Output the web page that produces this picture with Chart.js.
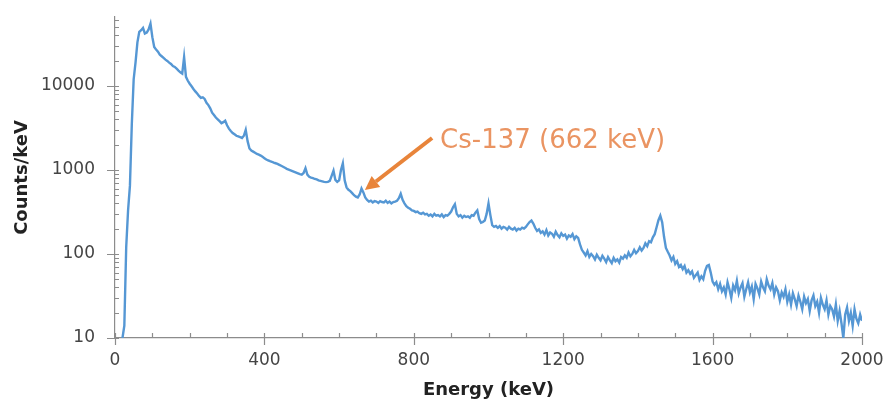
<!DOCTYPE html>
<html>
<head>
<meta charset="utf-8">
<title>Gamma spectrum</title>
<script src="https://cdn.jsdelivr.net/npm/chart.js"></script>
<style>
  html, body { margin: 0; padding: 0; background: white; }
  #wrap { width: 889px; height: 401px; position: relative; }
</style>
</head>
<body>
<div id="wrap"><canvas id="chart"></canvas></div>
<script>
// spectrum, one value every 5 keV starting at 20 keV
const startKeV = 20;
const stepKeV = 5;
const counts = [
  10, 14, 120, 330, 650, 3500, 12000, 19000, 33000, 44000, 46000, 49000, 42000, 43000, 47000, 55000, 38000, 29000, 27000, 25500,
  23500, 22500, 21500, 20500, 19800, 18900, 18200, 17200, 16800, 16000, 15200, 14500, 14000, 22000, 12800, 11500, 10600, 9900, 9200, 8600,
  8100, 7600, 7200, 7300, 7000, 6300, 5900, 5400, 4800, 4500, 4200, 4000, 3800, 3600, 3700, 3850, 3400, 3100, 2900, 2750,
  2650, 2550, 2500, 2450, 2400, 2550, 3000, 2200, 1800, 1700, 1650, 1600, 1550, 1520, 1480, 1430, 1380, 1330, 1300, 1270,
  1250, 1220, 1200, 1180, 1150, 1120, 1090, 1060, 1030, 1010, 990, 970, 950, 930, 910, 890, 880, 920, 1050, 880,
  830, 810, 800, 780, 770, 750, 740, 730, 720, 715, 720, 740, 850, 980, 760, 720, 750, 1000, 1200, 750,
  620, 580, 560, 530, 500, 480, 470, 510, 600, 540, 470, 440, 420, 430, 410, 425, 420, 405, 425, 415,
  410, 430, 405, 420, 400, 415, 420, 430, 460, 520, 440, 400, 370, 355, 345, 330, 325, 315, 320, 305,
  300, 310, 295, 300, 285, 295, 280, 300, 285, 290, 280, 295, 275, 290, 285, 300, 320, 360, 390, 300,
  280, 290, 270, 285, 275, 280, 270, 290, 285, 310, 330, 260, 235, 240, 250, 300, 400, 290, 220, 210,
  215, 205, 215, 200, 210, 205, 195, 210, 200, 195, 205, 190, 200, 195, 205, 200, 210, 225, 240, 250,
  230, 205, 188, 196, 178, 186, 170, 192, 166, 180, 174, 160, 184, 168, 158, 176, 164, 170, 152, 166,
  160, 172, 150, 162, 155, 130, 112, 104, 96, 108, 92, 100, 94, 86, 98, 90, 84, 95, 88, 80,
  92, 84, 78, 90, 82, 86, 79, 92, 88, 96, 90, 104, 94, 100, 112, 102, 108, 120, 110, 118,
  134, 124, 142, 138, 158, 172, 208, 252, 285, 238, 160, 118, 106, 96, 84, 92, 76, 82, 70, 74,
  66, 72, 60, 64, 58, 62, 52, 56, 60, 49, 54, 50, 63, 72, 74, 60, 47, 43, 46, 38,
  44, 36, 40, 33, 46, 38, 30, 42, 37, 48, 34, 40, 45, 31, 38, 46, 35, 41, 29, 44,
  39, 33, 47, 40, 36, 50, 42, 38, 45, 33, 40, 36, 28, 35, 31, 38, 27, 33, 25, 34,
  29, 24, 32, 27, 22, 31, 26, 29, 21, 28, 32, 24, 27, 20, 30, 25, 22, 28, 19, 24,
  22, 18, 25, 16, 21, 15, 10, 19, 23, 16, 20, 14, 22, 17, 15, 19, 16
];

const xLabels = [0, 400, 800, 1200, 1600, 2000];
const yLabels = [10, 100, 1000, 10000];
const peakLabel = 'Cs-137 (662 keV)';
const arrowTip = [669, 575];     // keV, counts/keV
const arrowTail = [849, 2400];

const points = counts.map((c, i) => ({ x: startKeV + i * stepKeV, y: c }));

const axisGray = '#8c8c8c';

// tick marks drawn like the original: minor ones inside, major ones crossing
const tickMarks = {
  id: 'tickMarks',
  afterDraw(chart) {
    const { ctx, scales: { x, y }, chartArea: a } = chart;
    ctx.save();
    ctx.strokeStyle = axisGray;
    ctx.lineWidth = 1.2;
    ctx.beginPath();
    for (let v = x.min; v <= x.max; v += 100) {
      const px = Math.round(x.getPixelForValue(v)) + 0.5;
      ctx.moveTo(px, a.bottom - 5);
      ctx.lineTo(px, a.bottom + (xLabels.includes(v) ? 7 : 0));
    }
    for (let d = 10; d < y.max; d *= 10) {
      for (let k = 1; k < 10; k++) {
        const v = d * k;
        if (v > y.max) break;
        const py = Math.round(y.getPixelForValue(v)) + 0.5;
        ctx.moveTo(a.left - (k === 1 ? 8 : 0), py);
        ctx.lineTo(a.left + 4, py);
      }
    }
    ctx.stroke();
    ctx.restore();
  }
};

// arrow and label pointing at the Cs-137 line
const peakNote = {
  id: 'peakNote',
  afterDraw(chart) {
    const { ctx, scales: { x, y } } = chart;
    const tx = x.getPixelForValue(arrowTip[0]), ty = y.getPixelForValue(arrowTip[1]);
    const sx = x.getPixelForValue(arrowTail[0]), sy = y.getPixelForValue(arrowTail[1]);
    const ang = Math.atan2(ty - sy, tx - sx);
    const head = 14, half = 7;
    const bx = tx - head * Math.cos(ang), by = ty - head * Math.sin(ang);
    ctx.save();
    ctx.strokeStyle = '#E8843A';
    ctx.fillStyle = '#E8843A';
    ctx.lineWidth = 4;
    ctx.beginPath();
    ctx.moveTo(sx, sy);
    ctx.lineTo(bx, by);
    ctx.stroke();
    ctx.beginPath();
    ctx.moveTo(tx, ty);
    ctx.lineTo(bx + half * Math.sin(ang), by - half * Math.cos(ang));
    ctx.lineTo(bx - half * Math.sin(ang), by + half * Math.cos(ang));
    ctx.closePath();
    ctx.fill();
    ctx.fillStyle = '#EA9462';
    ctx.font = '26px "DejaVu Sans"';
    ctx.textBaseline = 'alphabetic';
    ctx.fillText(peakLabel, sx + 8, sy + 10);
    ctx.restore();
  }
};

new Chart(document.getElementById('chart'), {
  type: 'line',
  data: {
    datasets: [{
      data: points,
      borderColor: '#5597D4',
      borderWidth: 2.4,
      pointRadius: 0,
      tension: 0,
      fill: false
    }]
  },
  options: {
    responsive: true,
    maintainAspectRatio: false,
    animation: false,
    layout: { padding: { top: 17, right: 27, left: 0, bottom: 0 } },
    plugins: { legend: { display: false }, tooltip: { enabled: false } },
    scales: {
      x: {
        type: 'linear',
        min: 0,
        max: 2000,
        afterFit(s) { s.height = 63; s.paddingLeft = 0; s.paddingRight = 0; },
        grid: { display: false, drawTicks: false },
        border: { display: true, color: axisGray, width: 1.2 },
        ticks: {
          stepSize: 400,
          padding: 12,
          color: '#444',
          font: { family: 'DejaVu Sans', size: 17 },
          maxRotation: 0,
          callback: v => xLabels.includes(v) ? String(v) : ''
        },
        title: {
          display: true,
          text: 'Energy (keV)',
          color: '#222',
          font: { family: 'DejaVu Sans', size: 18, weight: 'bold' },
          padding: { top: 0, bottom: 0 }
        }
      },
      y: {
        type: 'logarithmic',
        min: 10,
        max: 66000,
        afterFit(s) { s.width = 115; s.paddingTop = 0; s.paddingBottom = 0; },
        grid: { display: false, drawTicks: false },
        border: { display: true, color: axisGray, width: 1.2 },
        ticks: {
          autoSkip: false,
          padding: 20,
          color: '#444',
          font: { family: 'DejaVu Sans', size: 17 },
          callback: v => yLabels.includes(v) ? String(v) : ''
        },
        title: {
          display: true,
          text: 'Counts/keV',
          color: '#222',
          font: { family: 'DejaVu Sans', size: 18, weight: 'bold' },
          padding: { top: 12, bottom: 0 }
        }
      }
    }
  },
  plugins: [tickMarks, peakNote]
});
</script>
</body>
</html>
